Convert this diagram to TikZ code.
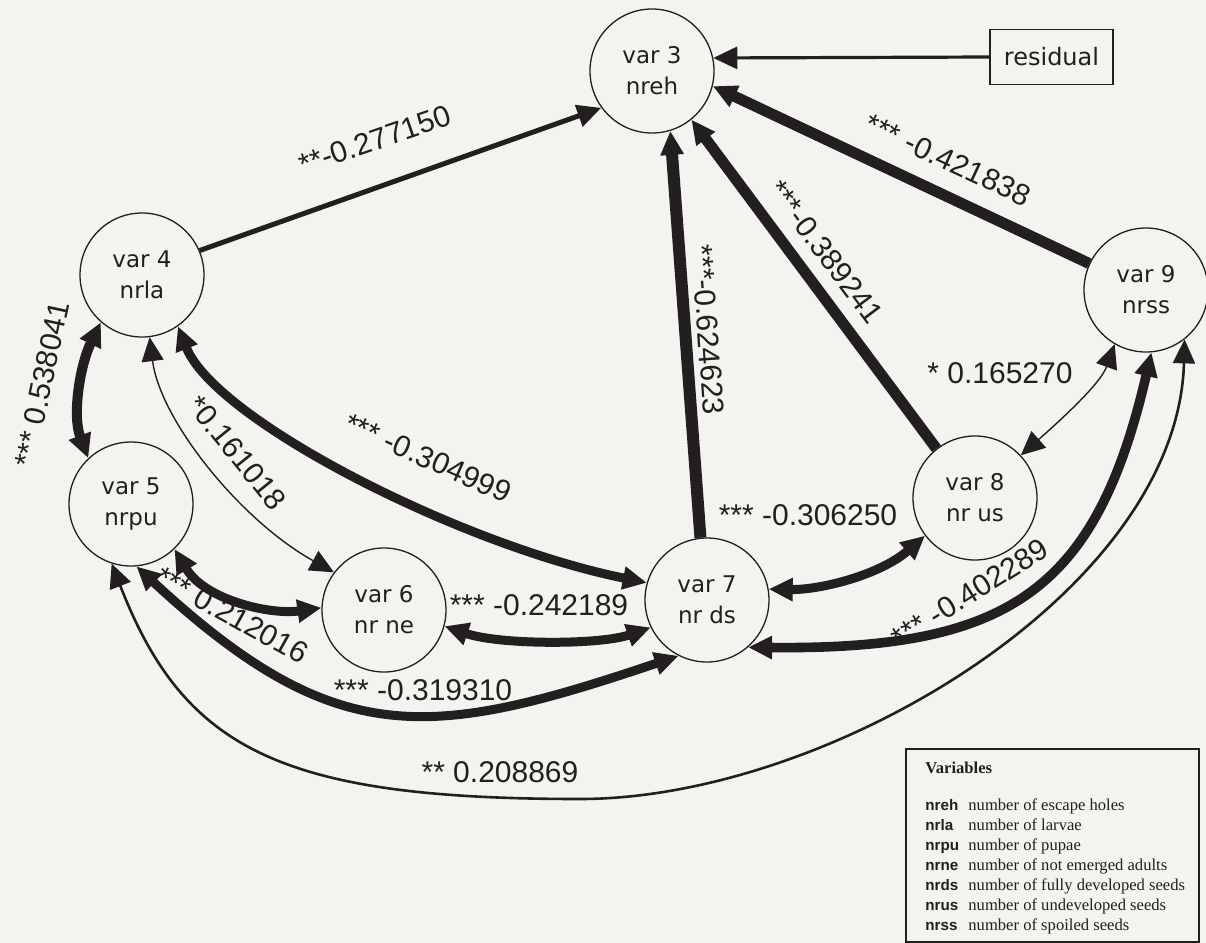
\documentclass[tikz,border=0pt]{standalone}
\usepackage{fontspec}
\setmainfont{Liberation Serif}
\newfontfamily\nodefont{DejaVu Sans}
\newfontfamily\lblfont{Liberation Sans}
\newfontfamily\legfont{Liberation Serif}
\newfontfamily\abbrfont{Liberation Sans}
\usetikzlibrary{arrows.meta}
\definecolor{ink}{RGB}{35,31,32}
\definecolor{paper}{RGB}{243,243,239}
\begin{document}
\begin{tikzpicture}[x=0.5pt,y=-0.5pt,
  >={Triangle[length=12pt,width=11pt]},
  var/.style={circle,draw=ink,line width=0.65pt,minimum size=62pt,inner sep=0pt,align=center,text=ink,
    font=\nodefont\fontsize{11.5pt}{15.5pt}\selectfont},
  lbl/.style={text=ink,inner sep=0pt,font=\lblfont\fontsize{15pt}{18pt}\selectfont},
  con/.style={draw=ink,line join=miter},
  thin/.style={con,line width=0.7pt},
  thick/.style={con,line width=4.5pt},
  legabbr/.style={anchor=base west,inner sep=0pt,text=ink,font=\abbrfont\bfseries\fontsize{7.6pt}{9pt}\selectfont},
  legtext/.style={anchor=base west,inner sep=0pt,text=ink,font=\legfont\fontsize{8.3pt}{10pt}\selectfont}]
\useasboundingbox (0,0) rectangle (1206,943);
\fill[paper] (0,0) rectangle (1206,943);

% variable nodes
\node[var] (v3) at (652,71)  {var 3\\nreh};
\node[var] (v4) at (142,275) {var 4\\nrla};
\node[var] (v5) at (131,504) {var 5\\nrpu};
\node[var] (v6) at (384,610) {var 6\\nr ne};
\node[var] (v7) at (707,600) {var 7\\nr ds};
\node[var] (v8) at (975,498) {var 8\\nr us};
\node[var] (v9) at (1146,290) {var 9\\nrss};
\node[draw=ink,line width=0.7pt,rectangle,minimum width=61.5pt,minimum height=27.5pt,inner sep=0pt,text=ink,
  font=\nodefont\fontsize{12pt}{14pt}\selectfont] (res) at (1051.5,57) {residual};

% directed paths to var 3
\draw[con,->,line width=1.6pt] (res.west) -- (v3.12);
\draw[con,->,line width=2.5pt] (v4.23) -- (v3.216);
\draw[con,->,line width=6pt] (v7.96) -- (v3.-73);
\draw[con,->,line width=5.5pt] (v8.128) -- (v3.-51);
\draw[con,->,line width=5.5pt] (v9.155) -- (v3.-14);

% correlations
\draw[thick,<->,line width=5pt] (v4.229) .. controls (80,365) and (72,415) .. (v5.133);
\draw[thin,<->] (v4.-83) .. controls (160,420) and (240,520) .. (v6.143);
\draw[thick,<->] (v4.-55) .. controls (215,420) and (460,545) .. (v7.164);
\draw[thick,<->] (v5.-46) .. controls (205,600) and (270,615) .. (v6.178);
\draw[thick,<->] (v6.-15) .. controls (500,645) and (600,645) .. (v7.206);
\draw[thick,<->] (v5.-85) .. controls (336,751) and (429,740) .. (v7.243);
\draw[thick,<->] (v7.10) .. controls (820,590) and (880,575) .. (v8.217);
\draw[thin,<->] (v8.43) .. controls (1055,425) and (1100,385) .. (v9.240);
\draw[thick,<->,line width=4.8pt] (v7.-49) .. controls (1008,650) and (1096,592) .. (v9.-85);
\draw[con,<->,line width=1.3pt] (v5.-108) .. controls (183.8,749) and (280,799) .. (580,799)
   .. controls (830,799) and (1178,590) .. (v9.-52);

% labels
\node[lbl,rotate=19]  (l1)  at (375,140) {**-0.277150};
\node[lbl,rotate=-86] (l2)  at (708,330) {***-0.624623};
\node[lbl,rotate=-53] (l3)  at (826,252) {***-0.389241};
\node[lbl,rotate=-25] (l4)  at (948,160) {*** -0.421838};
\node[lbl,rotate=78]  (l5)  at (42,384)  {*** 0.538041};
\node[lbl,rotate=-51] (l6)  at (237,453) {*0.161018};
\node[lbl,rotate=-24] (l7)  at (428,458) {*** -0.304999};
\node[lbl,rotate=-29] (l8)  at (232,615) {*** 0.212016};
\node[lbl]            (l9)  at (539,605) {*** -0.242189};
\node[lbl]            (l10) at (423,690) {*** -0.319310};
\node[lbl]            (l11) at (808,515) {*** -0.306250};
\node[lbl]            (l12) at (1000,373) {* 0.165270};
\node[lbl,rotate=32]  (l13) at (970,593) {*** -0.402289};
\node[lbl]            (l14) at (500,772) {** 0.208869};

% legend
\node[draw=ink,line width=1pt,rectangle,anchor=north west,minimum width=146.5pt,minimum height=96.5pt,inner sep=0pt] (legend) at (905,748) {};
\node[anchor=base west,inner sep=0pt,text=ink,font=\legfont\bfseries\fontsize{8.3pt}{10pt}\selectfont] (lt) at (925,773) {Variables};
\node[legabbr] (a1) at (925,810) {nreh}; \node[legtext] (d1) at (968,810) {number of escape holes};
\node[legabbr] (a2) at (925,830) {nrla}; \node[legtext] (d2) at (968,830) {number of larvae};
\node[legabbr] (a3) at (925,850) {nrpu}; \node[legtext] (d3) at (968,850) {number of pupae};
\node[legabbr] (a4) at (925,870) {nrne}; \node[legtext] (d4) at (968,870) {number of not emerged adults};
\node[legabbr] (a5) at (925,890) {nrds}; \node[legtext] (d5) at (968,890) {number of fully developed seeds};
\node[legabbr] (a6) at (925,910) {nrus}; \node[legtext] (d6) at (968,910) {number of undeveloped seeds};
\node[legabbr] (a7) at (925,930) {nrss}; \node[legtext] (d7) at (968,930) {number of spoiled seeds};
\end{tikzpicture}
\end{document}
